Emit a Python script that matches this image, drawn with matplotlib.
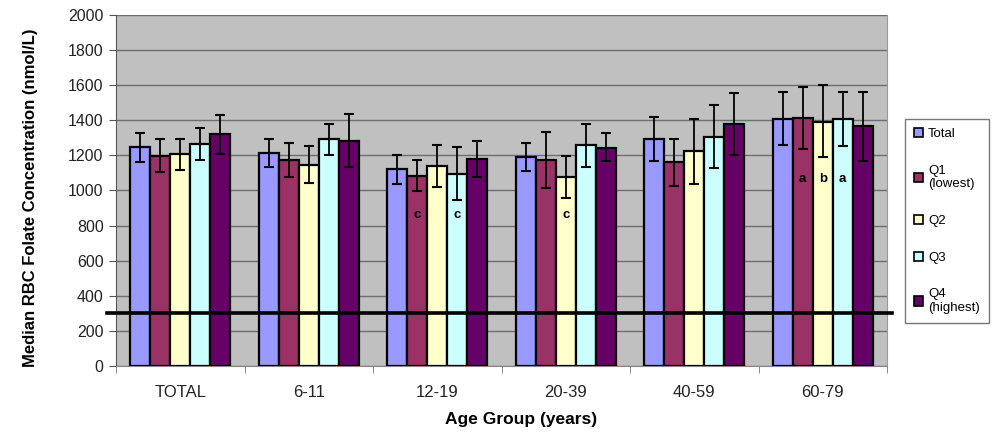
import matplotlib
matplotlib.use("Agg")
import matplotlib.pyplot as plt
import numpy as np

categories = ["TOTAL", "6-11", "12-19", "20-39", "40-59", "60-79"]
series_names = ["Total", "Q1\n(lowest)", "Q2", "Q3", "Q4\n(highest)"]
colors = ["#9999FF", "#993366", "#FFFFCC", "#CCFFFF", "#660066"]

medians = [
    [1250, 1214, 1120, 1189, 1291, 1407],   # Total
    [1198, 1174, 1084, 1174, 1160, 1413],   # Q1
    [1206, 1147, 1141, 1075, 1223, 1392],   # Q2
    [1265, 1291, 1094, 1257, 1302, 1407],   # Q3
    [1320, 1284, 1179, 1242, 1379, 1366],   # Q4
]
ci_low = [
    [1160, 1131, 1035, 1113, 1166, 1259],
    [1105, 1077, 997, 1012, 1027, 1236],
    [1117, 1044, 1018, 955, 1037, 1189],
    [1174, 1200, 946, 1132, 1126, 1254],
    [1208, 1136, 1075, 1166, 1202, 1170],
]
ci_high = [
    [1330, 1291, 1204, 1269, 1417, 1559],
    [1291, 1272, 1174, 1331, 1293, 1588],
    [1291, 1254, 1261, 1194, 1407, 1601],
    [1358, 1379, 1250, 1381, 1489, 1561],
    [1430, 1434, 1282, 1325, 1554, 1561],
]
# significance letters: (category index, series index, letter, y value)
sig_labels = [(2, 1, "c", 860), (2, 3, "c", 860), (3, 2, "c", 860),
              (5, 1, "a", 1063), (5, 2, "b", 1063), (5, 3, "a", 1063)]
reference_level = 300
y_ticks = list(range(0, 2001, 200))

plt.rcParams['font.family'] = ['Liberation Sans', 'DejaVu Sans']

fig = plt.figure(figsize=(10, 4.32), dpi=100)
ax = fig.add_axes([0.116, 0.1528, 0.771, 0.8125])
ax.set_facecolor("#C0C0C0")

x = np.arange(len(categories))
bw = 0.156
for i in range(len(series_names)):
    vals = np.array(medians[i])
    lo = vals - np.array(ci_low[i])
    hi = np.array(ci_high[i]) - vals
    xs = x + (i - 2) * bw
    ax.bar(xs, vals, width=bw, color=colors[i], edgecolor="black",
           linewidth=1.6, label=series_names[i], zorder=3)
    ax.errorbar(xs, vals, yerr=[lo, hi], fmt="none", ecolor="black",
                elinewidth=1.3, capsize=3.5, capthick=1.5, zorder=4)

for ci, si, letter, yv in sig_labels:
    ax.text(x[ci] + (si - 2) * bw, yv, letter, ha="center", va="center",
            fontsize=9.5, fontweight="bold", color="black", zorder=5)

ax.axhline(reference_level, xmin=-0.012, xmax=1.007, color="black",
           linewidth=2.6, zorder=6, clip_on=False)

ax.set_xlim(-0.5, len(categories) - 0.5)
ax.set_ylim(0, 2000)
ax.set_yticks(y_ticks)
ax.yaxis.grid(True, color="#6E6E6E", linewidth=1.0, zorder=0)
ax.set_axisbelow(True)
ax.tick_params(axis="y", labelsize=11.5, length=5, pad=4, color="#555555", labelcolor="#222222")
ax.set_xticks(x)
ax.set_xticklabels(categories, fontsize=12, color="#222222")
ax.tick_params(axis="x", length=0, pad=14)
ax.set_xticks(np.arange(-0.5, len(categories)), minor=True)
ax.tick_params(axis="x", which="minor", length=5, color="#777777")

ax.spines["left"].set_color("#555555")
ax.spines["bottom"].set_color("#888888")
ax.spines["right"].set_color("#999999")
ax.spines["top"].set_visible(False)

ax.set_ylabel("Median RBC Folate Concentration (nmol/L)", fontsize=12,
              fontweight="bold")
ax.yaxis.set_label_coords(-0.101, 0.48)
ax.set_xlabel("Age Group (years)", fontsize=12.5, fontweight="bold")
ax.xaxis.set_label_coords(0.526, -0.132)
ax.xaxis.label.set_va("top")

leg = fig.legend(loc="upper left", bbox_to_anchor=(0.905, 0.725),
                 fontsize=9.5, frameon=True, fancybox=False, edgecolor="#555555",
                 handlelength=0.7, handleheight=0.7, handletextpad=0.35,
                 labelspacing=1.85, borderpad=0.7, borderaxespad=0)
for h in leg.legend_handles:
    h.set_linewidth(1.2)

fig.savefig("out.png", dpi=100, facecolor="white")
